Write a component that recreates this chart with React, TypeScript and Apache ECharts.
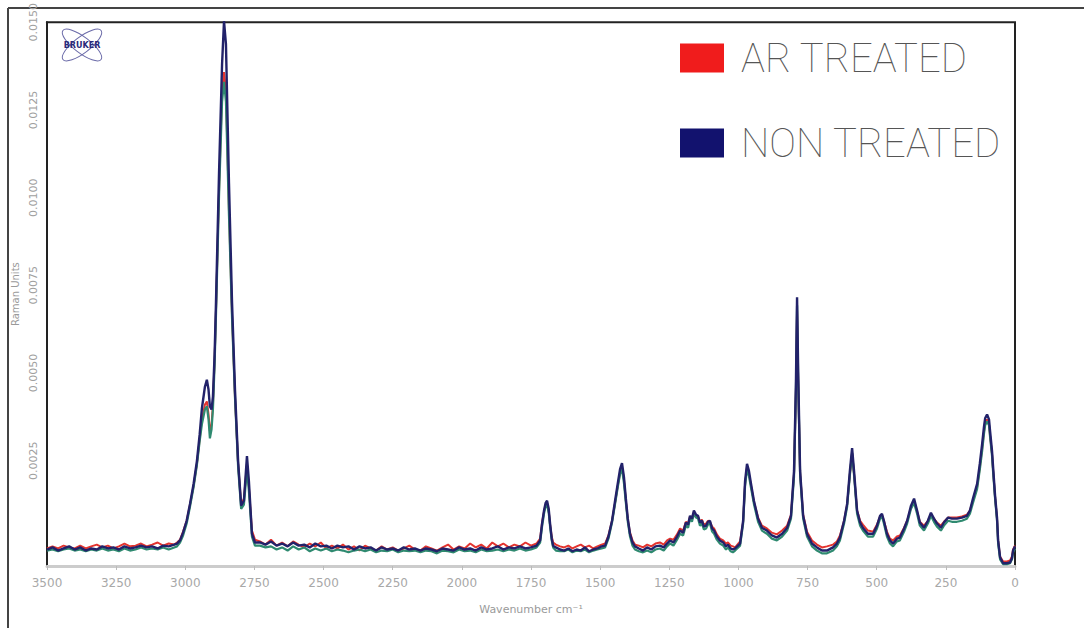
import { useEffect, useRef } from "react";
import * as echarts from "echarts";

// Raman shift (cm-1), shared by all three spectra
const wavenumbers = [
  3500, 3480, 3460, 3440, 3420, 3400, 3380, 3360, 3340, 3320, 3300, 3280, 3260, 3240, 3220, 3200, 3180, 3160, 3140, 3120, 3100, 3080, 3060, 3040,
  3030, 3019, 3008, 2995, 2983, 2970, 2958, 2948, 2940, 2929, 2922, 2916, 2911, 2905, 2900, 2894, 2889, 2878, 2867, 2860, 2853, 2842, 2831, 2820, 2809, 2798, 2788, 2777, 2770, 2759, 2748,
  2730, 2710, 2690, 2670, 2650, 2630, 2610, 2590, 2570, 2550, 2530, 2510, 2490, 2470, 2450, 2430, 2410, 2390, 2370, 2350, 2330, 2310, 2290, 2270, 2250, 2230, 2210, 2190, 2170, 2150, 2130, 2110, 2090, 2070, 2050, 2030, 2010, 1990, 1970, 1950, 1930, 1910, 1890, 1870, 1850, 1830, 1810, 1790, 1770, 1750, 1730,
  1717, 1710, 1703, 1697, 1692, 1686, 1681, 1675, 1670, 1660, 1645,
  1630, 1615, 1600, 1585, 1570, 1555, 1540, 1525, 1510, 1495,
  1482, 1470, 1457, 1446, 1435, 1428, 1421, 1414, 1407, 1400, 1392, 1383, 1374,
  1360, 1345, 1330, 1315, 1300, 1284, 1270, 1258, 1247, 1235, 1222, 1211, 1200, 1190, 1182, 1175, 1168, 1161, 1153, 1146, 1139, 1132, 1125, 1117, 1110, 1103, 1095, 1088, 1078, 1067, 1055, 1045, 1038, 1028, 1020,
  1012, 994, 983, 976, 969, 962, 955, 944, 929, 915, 897, 879, 861, 842, 824, 810, 799, 792, 788, 784,
  777, 766, 752, 734, 716, 698, 680, 658, 644, 633, 618, 607, 597, 589, 582, 571, 560, 550, 532, 513,
  499, 488, 481, 474, 463, 452, 441, 427, 416, 401, 390, 376, 365, 354, 344, 329, 315, 304, 293, 282,
  268, 257, 242, 228, 210, 192, 174, 163, 152, 137, 127, 119, 112, 108, 101, 94, 90, 83, 80, 72,
  65, 61, 54, 43, 29, 18, 11, 7, 0,
];

// Intensities in units of 1e-5 Raman units
const arTreated = [
  0, 6, 0, 8, 3, 0, 8, 0, 6, 11, 3, 8, 0, 6, 14, 6, 8, 14, 6, 11, 17, 8, 14, 11,
  17, 25, 48, 79, 125, 178, 241, 311, 368, 410, 419, 382, 334, 354, 410, 538, 679, 1019, 1302, 1358, 1302, 962, 665, 425, 241, 127, 142, 241, 175, 51, 25,
  20, 11, 25, 8, 17, 6, 20, 11, 3, 14, 6, 17, 0, 8, 0, 11, -3, 6, -6, 8, 0, -6, 6, -3, 3, -6, 0, 8, -3, -6, 6, 0, -6, 3, 11, -3, 6, 0, 14, 3, 11, 0, 17, 6, 14, 3, 11, 6, 17, 8, 14,
  28, 74, 105, 125, 130, 108, 68, 34, 17, 11, 6,
  3, 8, 0, 6, 11, 3, 8, 0, 6, 11,
  14, 37, 79, 130, 184, 215, 232, 198, 136, 82, 45, 23, 11,
  8, 3, 11, 6, 14, 17, 11, 23, 28, 25, 40, 57, 51, 76, 71, 91, 85, 102, 93, 91, 76, 82, 68, 71, 79, 76, 62, 57, 40, 28, 23, 14, 17, 8, 6,
  3, 20, 76, 184, 232, 212, 181, 133, 88, 65, 57, 45, 40, 51, 65, 96, 212, 453, 679, 481,
  215, 96, 48, 23, 11, 3, 6, 11, 20, 37, 79, 125, 212, 272, 212, 108, 79, 68, 51, 48,
  68, 91, 96, 79, 48, 28, 23, 34, 37, 59, 79, 116, 136, 105, 76, 65, 79, 96, 85, 74,
  65, 76, 88, 88, 88, 91, 96, 108, 136, 175, 232, 283, 334, 357, 368, 354, 320, 269, 232, 147,
  85, 23, -23, -37, -37, -34, -23, -3, 8,
];

const thirdSpectrum = [
  -6, -3, -8, -3, 0, -6, -3, -8, -3, -6, 0, -6, -3, -8, 0, -6, -3, 3, -3, 0, -3, 3, -3, 3,
  6, 17, 37, 71, 119, 175, 238, 306, 354, 396, 405, 368, 314, 340, 396, 524, 665, 1005, 1274, 1330, 1274, 948, 657, 425, 232, 113, 125, 226, 164, 34, 8,
  8, 3, 6, -3, 3, -6, 6, -3, 3, -8, 0, -6, 0, -8, -3, -6, -11, -6, -3, -8, -3, -11, -6, -8, -3, -11, -6, -8, -6, -11, -6, -8, -14, -6, -8, -11, -3, -8, -6, -11, -3, -8, -6, -3, -8, -3, -6, 0, -6, -3, 3,
  17, 62, 99, 122, 125, 102, 62, 23, 3, -6, -8,
  -8, -3, -11, -6, -8, -3, -11, -6, -3, 0,
  3, 28, 74, 127, 181, 212, 226, 187, 130, 76, 34, 8, -3,
  -8, -11, -6, -11, -3, 0, -6, 6, 14, 8, 25, 42, 37, 65, 59, 85, 76, 99, 88, 85, 65, 71, 54, 57, 68, 71, 48, 42, 25, 14, 8, -3, 3, -8, -11,
  -6, 8, 71, 178, 226, 207, 175, 127, 76, 51, 42, 28, 23, 34, 51, 85, 204, 453, 693, 481,
  209, 85, 34, 6, -6, -14, -14, -6, 6, 23, 71, 119, 209, 272, 209, 99, 65, 51, 34, 34,
  57, 85, 91, 71, 34, 14, 6, 20, 23, 48, 71, 113, 130, 99, 65, 51, 71, 93, 76, 62,
  51, 65, 79, 76, 76, 79, 85, 99, 130, 170, 226, 277, 328, 351, 362, 351, 317, 263, 226, 142,
  79, 14, -31, -45, -45, -42, -31, -11, 0,
];

const nonTreated = [
  -3, 3, -6, 0, 6, -3, 3, -6, 0, -3, 6, 0, 3, -3, 6, 0, 3, 8, 3, 6, 0, 8, 6, 11,
  14, 23, 45, 79, 127, 184, 249, 325, 399, 461, 481, 453, 405, 396, 433, 552, 702, 1070, 1381, 1503, 1438, 1041, 702, 447, 249, 122, 136, 263, 192, 42, 17,
  17, 11, 20, 8, 14, 6, 17, 8, 11, 3, 14, 6, 8, 0, 8, 3, 6, -3, 6, 0, 3, -6, 3, -3, 0, -6, 3, -3, 0, -6, 0, -3, -8, 0, -3, -6, 3, -3, 0, -6, 3, -3, 0, 6, -3, 3, 0, 6, 0, 3, 8,
  23, 71, 108, 130, 136, 113, 71, 28, 8, 3, -3,
  -6, 0, -8, -3, -6, 3, -8, -3, 0, 6,
  8, 34, 79, 136, 192, 226, 243, 204, 142, 85, 42, 17, 6,
  0, -6, 3, -3, 6, 8, 3, 14, 23, 17, 34, 51, 45, 74, 68, 93, 85, 108, 96, 93, 74, 79, 62, 65, 76, 79, 57, 51, 34, 23, 17, 6, 11, 0, -3,
  0, 14, 79, 192, 241, 221, 187, 136, 85, 59, 51, 37, 31, 42, 59, 93, 221, 475, 716, 504,
  221, 93, 42, 14, 3, -6, -6, 3, 14, 31, 79, 127, 221, 286, 221, 108, 74, 59, 42, 42,
  65, 93, 99, 79, 42, 23, 14, 28, 31, 57, 79, 122, 142, 108, 74, 59, 79, 102, 85, 71,
  59, 74, 88, 85, 85, 88, 93, 108, 142, 184, 243, 297, 348, 371, 382, 368, 334, 277, 241, 150,
  88, 23, -25, -42, -42, -40, -28, -6, 6,
];

const yLabelValues = [0.0025, 0.005, 0.0075, 0.01, 0.0125, 0.015];
const legendNames = ["AR TREATED", "NON TREATED"];

const toPairs = (vals: number[]) => wavenumbers.map((w, i) => [w, vals[i] * 1e-5]);

export default function App() {
  const ref = useRef<HTMLDivElement>(null);
  useEffect(() => {
    document.body.style.margin = "0";
    const chart = echarts.init(ref.current!, null, { renderer: "svg" });
    const labelFont = "DejaVu Sans";
    chart.setOption({
      animation: false,
      backgroundColor: "#ffffff",
      grid: { left: 47, right: 69, top: 17, bottom: 62, show: true, borderColor: "#222222", borderWidth: 2, backgroundColor: "transparent" },
      legend: {
        data: [
          { name: legendNames[0], itemStyle: { color: "#f01c1c" } },
          { name: legendNames[1], itemStyle: { color: "#12126e" } },
        ],
        icon: "rect",
        orient: "vertical",
        left: 675,
        top: 33,
        itemWidth: 44,
        itemHeight: 29,
        itemGap: 45,
        selectedMode: false,
        textStyle: {
          fontFamily: "Roboto",
          fontWeight: 100,
          fontSize: 40,
          color: "#555555",
          padding: [0, 0, 0, 12],
        },
      },
      xAxis: {
        type: "value",
        inverse: true,
        min: 0,
        max: 3500,
        interval: 250,
        name: "Wavenumber cm\u207B\u00B9",
        nameLocation: "middle",
        nameGap: 38,
        nameTextStyle: { fontFamily: labelFont, fontSize: 11, color: "#9a9a9a" },
        axisLine: { onZero: false, lineStyle: { color: "#cccccc", width: 3 } },
        axisTick: { show: true, length: 4, lineStyle: { color: "#bbbbbb" } },
        axisLabel: {
          fontFamily: labelFont,
          fontSize: 12,
          color: "#a8a8a8",
          margin: 11,
          showMinLabel: true,
          showMaxLabel: true,
          formatter: (v: number) => String(v),
        },
        splitLine: { show: false },
      },
      yAxis: {
        type: "value",
        min: -0.0005,
        max: 0.015,
        name: "Raman Units",
        nameLocation: "middle",
        nameGap: 27,
        nameTextStyle: { fontFamily: labelFont, fontSize: 10, color: "#9a9a9a" },
        axisLine: { show: true, onZero: false, lineStyle: { color: "#222222", width: 2 } },
        axisTick: { show: false },
        axisLabel: {
          customValues: yLabelValues,
          rotate: 90,
          fontFamily: labelFont,
          fontSize: 11,
          color: "#a0a0a0",
          margin: 8,
          formatter: (v: number) => v.toFixed(4),
        },
        splitLine: { show: false },
      },
      series: [
        {
          name: legendNames[0],
          type: "line",
          data: toPairs(arTreated),
          showSymbol: false,
          color: "#e3342f",
          lineStyle: { width: 2, color: "#e3342f" },
          z: 2,
        },
        {
          name: "SPECTRUM 3",
          type: "line",
          data: toPairs(thirdSpectrum),
          showSymbol: false,
          color: "#2f8a70",
          lineStyle: { width: 2.2, color: "#2f8a70" },
          z: 3,
        },
        {
          name: legendNames[1],
          type: "line",
          data: toPairs(nonTreated),
          showSymbol: false,
          color: "#22226a",
          lineStyle: { width: 2.4, color: "#22226a" },
          z: 4,
        },
      ],
      graphic: [
        { type: "line", shape: { x1: 8, y1: 8, x2: 1084, y2: 8 }, style: { stroke: "#444444", lineWidth: 2 } },
        { type: "line", shape: { x1: 8, y1: 8, x2: 8, y2: 628 }, style: { stroke: "#444444", lineWidth: 2 } },
        {
          type: "group",
          x: 82,
          y: 45,
          children: [
            { type: "ellipse", rotation: 0.65, shape: { cx: 0, cy: 0, rx: 24, ry: 8 }, style: { fill: "none", stroke: "#6a6aa8", lineWidth: 1 } },
            { type: "ellipse", rotation: -0.65, shape: { cx: 0, cy: 0, rx: 24, ry: 8 }, style: { fill: "none", stroke: "#6a6aa8", lineWidth: 1 } },
            {
              type: "text",
              style: { text: "BRUKER", x: 0, y: 0, align: "center", verticalAlign: "middle", fontSize: 8, fontWeight: "bold", fontFamily: labelFont, fill: "#2a2a7a" },
            },
          ],
        },
      ],
    });
    return () => chart.dispose();
  }, []);
  return <div ref={ref} style={{ width: 1084, height: 628 }} />;
}
